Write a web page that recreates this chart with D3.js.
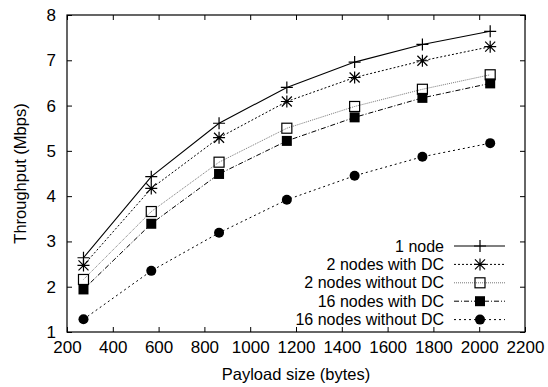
<!DOCTYPE html>
<html><head><meta charset="utf-8">
<script src="https://cdn.jsdelivr.net/npm/d3@7"></script>
<style>body{margin:0;background:#fff}svg{display:block}text{font-family:"Liberation Sans",Arial,sans-serif;fill:#000}</style>
</head><body><svg id="c" width="548" height="387"></svg>
<script>
const payload = [272, 568, 864, 1160, 1456, 1752, 2048];
const seriesNames = ["1 node", "2 nodes with DC", "2 nodes without DC", "16 nodes with DC", "16 nodes without DC"];
const oneNode = [2.64, 4.43, 5.61, 6.40, 6.96, 7.35, 7.64];
const twoWithDC = [2.47, 4.17, 5.29, 6.09, 6.62, 6.99, 7.30];
const twoWithoutDC = [2.16, 3.66, 4.75, 5.50, 5.98, 6.36, 6.68];
const sixteenWithDC = [1.94, 3.39, 4.49, 5.22, 5.74, 6.17, 6.49];
const sixteenWithoutDC = [1.28, 2.35, 3.19, 3.92, 4.45, 4.87, 5.17];
const xTicks = [200, 400, 600, 800, 1000, 1200, 1400, 1600, 1800, 2000, 2200];
const yTicks = [1, 2, 3, 4, 5, 6, 7, 8];

const series = [oneNode, twoWithDC, twoWithoutDC, sixteenWithDC, sixteenWithoutDC];
const styles = [
  {dash: null, color: "#000", width: 1.1, marker: "plus"},
  {dash: "2,2", color: "#000", width: 1, marker: "star"},
  {dash: "1,1", color: "#777", width: 1, marker: "square"},
  {dash: "5,2,1,2", color: "#000", width: 1, marker: "fsquare"},
  {dash: "2,3", color: "#000", width: 1, marker: "circle"}
];

const svg = d3.select("#c");
const L = 67, R = 525, T = 15, B = 332;
const x = d3.scaleLinear().domain([200, 2200]).range([L, R]);
const y = d3.scaleLinear().domain([1, 8]).range([B, T]);

svg.append("rect").attr("x", L).attr("y", T).attr("width", R - L).attr("height", B - T)
  .attr("fill", "none").attr("stroke", "#000").attr("stroke-width", 1.2);

const fs = 17;
const fmt = d3.format("d");
const gx = svg.append("g").attr("transform", `translate(0,${B})`)
  .call(d3.axisBottom(x).tickValues(xTicks).tickSize(-5).tickPadding(9).tickFormat(fmt));
const gxt = svg.append("g").attr("transform", `translate(0,${T})`)
  .call(d3.axisTop(x).tickValues(xTicks).tickSize(-5).tickFormat(""));
const gy = svg.append("g").attr("transform", `translate(${L},0)`)
  .call(d3.axisLeft(y).tickValues(yTicks).tickSize(-5).tickPadding(11).tickFormat(fmt));
const gyr = svg.append("g").attr("transform", `translate(${R},0)`)
  .call(d3.axisRight(y).tickValues(yTicks).tickSize(-5).tickFormat(""));
[gx, gxt, gy, gyr].forEach(g => {
  g.attr("font-size", null).attr("font-family", null);
  g.select(".domain").remove();
  g.selectAll("line").attr("stroke", "#000");
  g.selectAll("text").attr("font-size", fs).attr("fill", "#000");
});

svg.append("text").attr("x", (L + R) / 2).attr("y", 380).attr("text-anchor", "middle")
  .attr("font-size", 16.5).text("Payload size (bytes)");
svg.append("text").attr("transform", `translate(26,${(T + B) / 2}) rotate(-90)`)
  .attr("text-anchor", "middle").attr("font-size", 16.5).text("Throughput (Mbps)");

function marker(g, type, cx, cy) {
  if (type === "plus") {
    g.append("path").attr("d", `M${cx - 6},${cy}H${cx + 6}M${cx},${cy - 6}V${cy + 6}`)
      .attr("stroke", "#000").attr("stroke-width", 1.2).attr("fill", "none");
  } else if (type === "star") {
    g.append("path").attr("d", `M${cx - 6},${cy}H${cx + 6}M${cx},${cy - 6}V${cy + 6}M${cx - 5},${cy - 5}L${cx + 5},${cy + 5}M${cx - 5},${cy + 5}L${cx + 5},${cy - 5}`)
      .attr("stroke", "#000").attr("stroke-width", 1.2).attr("fill", "none");
  } else if (type === "square") {
    g.append("rect").attr("x", cx - 5).attr("y", cy - 5).attr("width", 10).attr("height", 10)
      .attr("fill", "none").attr("stroke", "#000").attr("stroke-width", 1.2);
  } else if (type === "fsquare") {
    g.append("rect").attr("x", cx - 5).attr("y", cy - 5).attr("width", 10).attr("height", 10).attr("fill", "#000");
  } else {
    g.append("circle").attr("cx", cx).attr("cy", cy).attr("r", 5).attr("fill", "#000");
  }
}

const line = d3.line().x((d, i) => x(payload[i])).y(d => y(d));
series.forEach((s, k) => {
  const st = styles[k];
  const g = svg.append("g");
  g.append("path").attr("d", line(s)).attr("fill", "none").attr("stroke", st.color)
    .attr("stroke-width", st.width).attr("stroke-dasharray", st.dash);
  s.forEach((v, i) => marker(g, st.marker, x(payload[i]), y(v)));
});

const lg = svg.append("g");
seriesNames.forEach((name, k) => {
  const st = styles[k];
  const ly = 246 + k * 18.4;
  lg.append("text").attr("x", 444).attr("y", ly).attr("dy", "0.35em").attr("text-anchor", "end")
    .attr("font-size", 16).text(name);
  lg.append("line").attr("x1", 454).attr("x2", 505).attr("y1", ly).attr("y2", ly)
    .attr("stroke", st.color).attr("stroke-width", st.width).attr("stroke-dasharray", st.dash);
  marker(lg, st.marker, 480, ly);
});
</script></body></html>
